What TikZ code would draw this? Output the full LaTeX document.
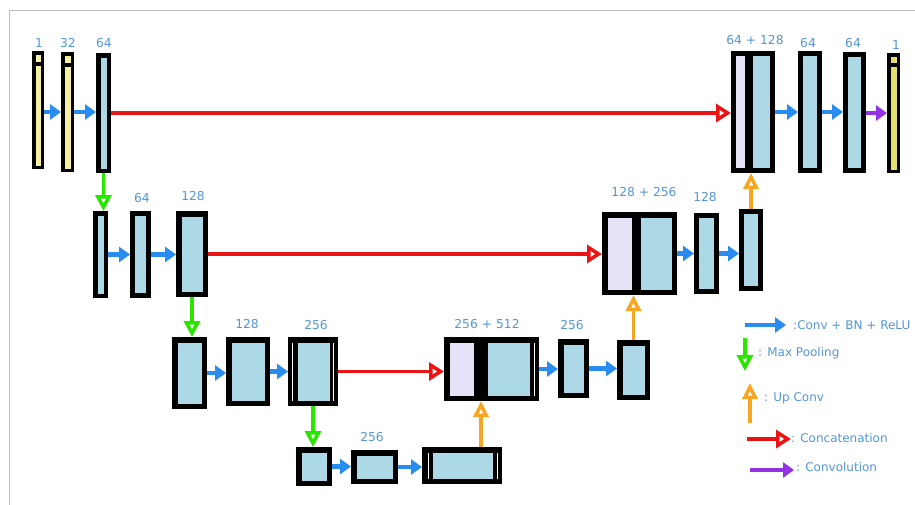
\documentclass[tikz,border=0pt]{standalone}
\usepackage{fontspec}
\setmainfont{DejaVu Sans}
\usetikzlibrary{arrows.meta,fit}
\definecolor{lb}{RGB}{173,216,230}
\definecolor{lav}{RGB}{230,228,248}
\definecolor{yelA}{RGB}{246,238,160}
\definecolor{yelB}{RGB}{228,224,110}
\definecolor{cblue}{RGB}{40,140,240}
\definecolor{cred}{RGB}{235,20,20}
\definecolor{cgreen}{RGB}{40,230,0}
\definecolor{corange}{RGB}{245,166,35}
\definecolor{cpurple}{RGB}{150,50,230}
\definecolor{ctext}{RGB}{85,150,215}
\newcommand\myblk[7]{\node[blk,line width=#7pt,fill=#6,fit={(#2+#7/2,#3+#7/2) (#4-#7/2,#5-#7/2)}] (#1) {};}
\begin{document}
\begin{tikzpicture}[x=1pt,y=-1pt,
  blk/.style={draw=black,rectangle,inner sep=0pt,minimum size=0pt},
  lab/.style={text=ctext,font=\fontsize{12.3}{14}\selectfont,inner sep=0pt},
  leg/.style={text=ctext,font=\fontsize{12}{14}\selectfont,inner sep=0pt,anchor=west},
  bluearr/.style={draw=cblue,line width=4.5pt,-{Triangle[length=11pt,width=15pt]}},
  purplearr/.style={draw=cpurple,line width=4.5pt,-{Triangle[length=11pt,width=15pt]}},
  redarr/.style={draw=cred,line width=3.5pt,-{Triangle[open,length=15pt,width=18pt]}},
  greenarr/.style={draw=cgreen,line width=3.5pt,-{Triangle[open,length=16pt,width=16pt]}},
  orangearr/.style={draw=corange,line width=3.5pt,-{Triangle[open,length=16pt,width=15pt]}}]
\useasboundingbox (0,0) rectangle (915,504);
\fill[white] (0,0) rectangle (915,504);
\draw[black!25,line width=1pt] (9,10) rectangle (940,530);

% row 1
\myblk{B1}{32}{51}{44}{169}{yelA}{3.5}
\fill[black] (32,62) rectangle (44,66);
\myblk{B2}{61}{52}{74}{172}{yelA}{3.5}
\fill[black] (61,63) rectangle (74,67);
\myblk{B3}{96}{53}{111}{173}{lb}{4.5}
\myblk{C1}{731}{51}{775}{173}{lb}{5}
\fill[lav] (736,56) rectangle (745,168);
\fill[black] (745,51) rectangle (753,173);
\myblk{D1}{798}{51}{822}{173}{lb}{5}
\myblk{D2}{843}{52}{866}{173}{lb}{5}
\myblk{D3}{887}{53}{900}{173}{yelB}{3.5}
\fill[black] (887,63) rectangle (900,67);

% row 2
\myblk{E1}{93}{211}{108}{298}{lb}{4.5}
\myblk{E2}{130}{211}{151}{298}{lb}{5}
\myblk{E3}{176}{211}{208}{297}{lb}{5.5}
\myblk{C2}{602}{212}{677}{295}{lb}{5.5}
\fill[lav] (607.5,217.5) rectangle (632,289.5);
\fill[black] (632,212) rectangle (641,295);
\myblk{F1}{694}{213}{719}{294}{lb}{5}
\myblk{F2}{739}{209}{763}{291}{lb}{5}

% row 3
\myblk{G1}{172}{337}{207}{409}{lb}{5.5}
\myblk{G2}{226}{337}{270}{406}{lb}{5.5}
\myblk{G3}{288}{337}{338}{406}{lb}{5.5}
\fill[black] (293.5,342.5) rectangle (297.5,400.5);
\fill[black] (330,342.5) rectangle (332.5,400.5);
\draw[white,line width=0.8pt] (292.5,342.5) -- (292.5,400.5);
\draw[white,line width=0.8pt] (333.5,342.5) -- (333.5,400.5);
\myblk{C3}{444}{337}{539}{401}{lb}{5.5}
\fill[lav] (449.5,342.5) rectangle (474,395.5);
\fill[black] (474,337) rectangle (488,401);
\fill[black] (530,342.5) rectangle (533.5,395.5);
\draw[white,line width=0.8pt] (534,342.5) -- (534,395.5);
\myblk{H1}{558}{339}{589}{398}{lb}{5.5}
\myblk{H2}{617}{340}{650}{400}{lb}{5.5}

% row 4
\myblk{I1}{296}{447}{332}{486}{lb}{5.5}
\myblk{I2}{351}{450}{398}{484}{lb}{5.5}
\myblk{I3}{422}{447}{502}{484}{lb}{5.5}
\fill[black] (427.5,452.5) rectangle (433,478.5);
\fill[black] (493,452.5) rectangle (496.5,478.5);
\draw[white,line width=0.8pt] (428,452.5) -- (428,478.5);
\draw[white,line width=0.8pt] (497,452.5) -- (497,478.5);

% labels
\node[lab] (t1) at (39,43) {1};
\node[lab] (t2) at (68,43) {32};
\node[lab] (t3) at (104,43) {64};
\node[lab] (t4) at (755,40) {64 + 128};
\node[lab] (t5) at (808,43) {64};
\node[lab] (t6) at (853,43) {64};
\node[lab] (t7) at (896,45) {1};
\node[lab] (t8) at (142,198) {64};
\node[lab] (t9) at (193,196) {128};
\node[lab] (t10) at (644,192) {128 + 256};
\node[lab] (t11) at (705,197) {128};
\node[lab] (t12) at (247,324) {128};
\node[lab] (t13) at (316,325) {256};
\node[lab] (t14) at (487,324) {256 +\hspace{4pt}512};
\node[lab] (t15) at (572,325) {256};
\node[lab] (t16) at (372,437) {256};

% connectors row 1
\draw[bluearr] (B1.east |- 0,112) -- (B2.west |- 0,112);
\draw[bluearr] (B2.east |- 0,112) -- (B3.west |- 0,112);
\draw[redarr] (B3.east) -- (B3.east -| C1.west);
\draw[bluearr] (C1.east |- 0,112) -- (D1.west |- 0,112);
\draw[bluearr] (D1.east |- 0,112) -- (D2.west |- 0,112);
\draw[purplearr] (D2.east |- 0,113) -- (D3.west |- 0,113);
\draw[greenarr] (B3.south) -- (B3.south |- E1.north);
% row 2
\draw[bluearr] (E1.east) -- (E1.east -| E2.west);
\draw[bluearr] (E2.east) -- (E2.east -| E3.west);
\draw[redarr] (E3.east) -- (E3.east -| C2.west);
\draw[bluearr] (C2.east |- F1.east) -- (F1.west);
\draw[bluearr] (F1.east) -- (F1.east -| F2.west);
\draw[orangearr] (F2.north) -- (F2.north |- C1.south);
\draw[greenarr] (E3.south) -- (E3.south |- G1.north);
% row 3
\draw[bluearr] (G1.east) -- (G1.east -| G2.west);
\draw[bluearr] (G2.east) -- (G2.east -| G3.west);
\draw[redarr] (G3.east) -- (G3.east -| C3.west);
\draw[bluearr] (C3.east) -- (C3.east -| H1.west);
\draw[bluearr] (H1.east) -- (H1.east -| H2.west);
\draw[orangearr] (H2.north) -- (H2.north |- C2.south);
\draw[greenarr] (G3.south) -- (G3.south |- I1.north);
% row 4
\draw[bluearr] (I1.east) -- (I1.east -| I2.west);
\draw[bluearr] (I2.east) -- (I2.east -| I3.west);
\coordinate (oc) at ([xshift=19pt]I3.north);
\draw[orangearr] (oc) -- (oc |- C3.south);

% legend
\coordinate (la1) at (745,325); \coordinate (la2) at (786,325);
\draw[bluearr] (la1) -- (la2);
\node[leg] (lt1) at (793,325) {:Conv + BN + ReLU};
\coordinate (lg1) at (745,338); \coordinate (lg2) at (745,371);
\draw[greenarr] (lg1) -- (lg2);
\node[leg] (lt2) at (758,353) {: Max Pooling};
\coordinate (lo1) at (750,423); \coordinate (lo2) at (750,383);
\draw[orangearr] (lo1) -- (lo2);
\node[leg] (lt3) at (764,398) {: Up Conv};
\coordinate (lr1) at (747,439); \coordinate (lr2) at (791,439);
\draw[redarr] (lr1) -- (lr2);
\node[leg] (lt4) at (791,438) {: Concatenation};
\coordinate (lp1) at (750,470); \coordinate (lp2) at (794,470);
\draw[purplearr] (lp1) -- (lp2);
\node[leg] (lt5) at (796,467) {: Convolution};
\end{tikzpicture}
\end{document}
